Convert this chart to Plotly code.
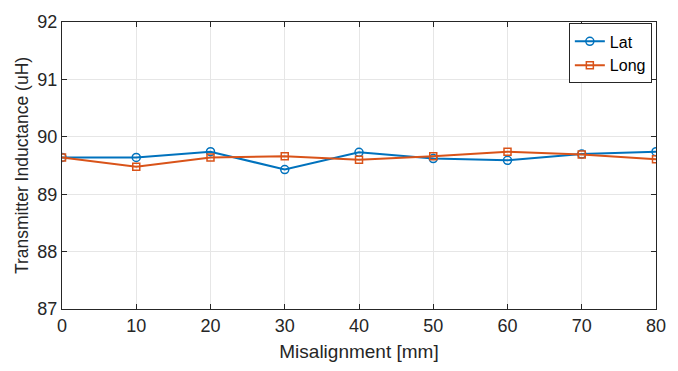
import plotly.graph_objects as go

misalignment = [0, 10, 20, 30, 40, 50, 60, 70, 80]
lat = [89.64, 89.64, 89.74, 89.43, 89.73, 89.62, 89.59, 89.70, 89.74]
long_ = [89.64, 89.48, 89.64, 89.66, 89.60, 89.66, 89.74, 89.69, 89.61]

fig = go.Figure()
fig.add_trace(go.Scatter(x=misalignment, y=lat, name="Lat", mode="lines+markers",
                         line=dict(color="#0072BD", width=2),
                         marker=dict(symbol="circle-open", size=8, color="#0072BD", line=dict(width=1.5))))
fig.add_trace(go.Scatter(x=misalignment, y=long_, name="Long", mode="lines+markers",
                         line=dict(color="#D95319", width=2),
                         marker=dict(symbol="square-open", size=7, color="#D95319", line=dict(width=1.5))))

axis_common = dict(showline=True, linecolor="#262626", linewidth=1, mirror="ticks",
                   ticks="inside", ticklen=5, tickcolor="#262626",
                   showgrid=True, gridcolor="#e6e6e6", gridwidth=1, zeroline=False,
                   tickfont=dict(family="Liberation Sans, Arial", size=18, color="#262626"))

fig.update_layout(
    width=678, height=371,
    margin=dict(l=62, r=21, t=17, b=61),
    paper_bgcolor="white", plot_bgcolor="white",
    font=dict(family="Liberation Sans, Arial", color="#262626"),
    xaxis=dict(range=[0, 80], dtick=10,
               title=dict(text="Misalignment [mm]", font=dict(size=19), standoff=10),
               **axis_common),
    yaxis=dict(range=[87, 92], dtick=1,
               title=dict(text="Transmitter Inductance (uH)", font=dict(size=17.5), standoff=4),
               **axis_common),
    legend=dict(x=0.993, y=0.995, xanchor="right", yanchor="top",
                bgcolor="white", bordercolor="#262626", borderwidth=1,
                font=dict(size=16, color="#000"), tracegroupgap=0, itemwidth=30),
    showlegend=True,
)

fig.write_html("out.html")
